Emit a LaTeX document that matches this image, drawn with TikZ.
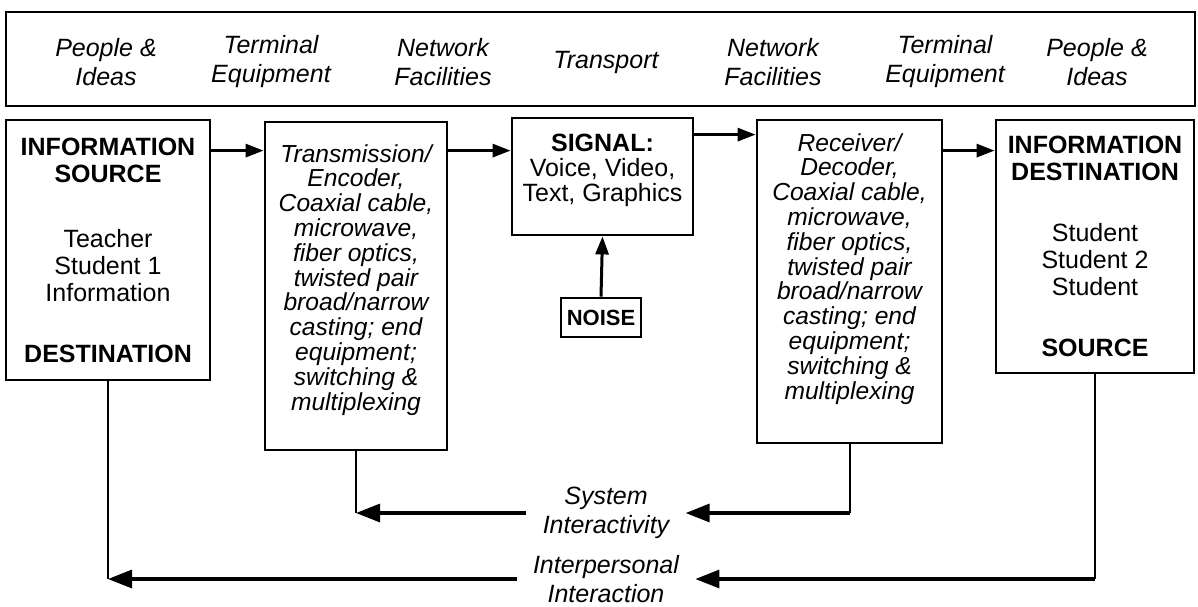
\documentclass[tikz,border=0pt]{standalone}
\usepackage{fontspec}
\setmainfont{Liberation Sans}
\usetikzlibrary{arrows.meta}

\begin{document}
\begin{tikzpicture}[x=0.5pt,y=-0.5pt,
  box/.style={draw,line width=1.4pt,inner sep=0pt,align=center,font=\fontsize{12.5}{13.5}\selectfont},
  mbox/.style={box,font=\fontsize{12.3}{12.4}\selectfont\itshape},
  hdr/.style={align=center,font=\fontsize{12.5}{14.5}\selectfont\itshape},
  lbl/.style={align=center,inner xsep=8pt,font=\fontsize{12.5}{14.5}\selectfont\itshape},
  arr/.style={line width=1.5pt,-{Triangle[length=9pt,width=6.5pt]}},
  barr/.style={line width=1.6pt,-{Triangle[length=12pt,width=9pt]}},
  wire/.style={line width=1pt}]
\useasboundingbox (0,0) rectangle (1198,606);
% header strip
\node[box,minimum width=594.5pt,minimum height=47pt] (top) at (600.5,59) {};
\foreach \x/\t [count=\i] in {106/{People \&\\Ideas},271/{Terminal\\Equipment},443/{Network\\Facilities},606/Transport,773/{Network\\Facilities},945/{Terminal\\Equipment},1097/{People \&\\Ideas}}
  \node[hdr] (h\i) at (\x,62) {\t};
% boxes
\node[box,minimum width=102pt,minimum height=130pt] (src) at (108,250)
  {\textbf{INFORMATION}\\\textbf{SOURCE}\\[19pt]Teacher\\Student 1\\Information\\[17pt]\textbf{DESTINATION}};
\node[mbox,minimum width=91pt,minimum height=164pt] (enc) at (356,286)
  {Transmission/\\Encoder,\\Coaxial cable,\\microwave,\\fiber optics,\\twisted pair\\broad/narrow\\casting; end\\equipment;\\switching \&\\multiplexing\\[-3.5pt]};
\node[box,minimum width=90.5pt,minimum height=58.5pt,font=\fontsize{12.5}{12.5}\selectfont] (sig) at (602.5,176.5)
  {\textbf{SIGNAL:}\\Voice, Video,\\Text, Graphics\\[-4pt]};
\node[box,minimum width=40pt,minimum height=19.5pt,font=\fontsize{11}{12}\selectfont\bfseries] (noise) at (601,317.5) {NOISE};
\node[mbox,minimum width=92.5pt,minimum height=161.5pt] (dec) at (849.5,281.5)
  {Receiver/\\Decoder,\\Coaxial cable,\\microwave,\\fiber optics,\\twisted pair\\broad/narrow\\casting; end\\equipment;\\switching \&\\multiplexing\\[3pt]};
\node[box,minimum width=99pt,minimum height=126.5pt] (dst) at (1095,246.5)
  {\textbf{INFORMATION}\\\textbf{DESTINATION}\\[17pt]Student\\Student 2\\Student\\[17pt]\textbf{SOURCE}};
% feedback labels
\node[lbl] (sys) at (606,513) {System\\Interactivity};
\node[lbl] (ipi) at (606,579) {Interpersonal\\Interaction};
% forward chain
\draw[arr] ([yshift=-16pt]src.north east) -- ([yshift=-15pt]enc.north west);
\draw[arr] ([yshift=-15pt]enc.north east) -- ([yshift=-17pt]sig.north west);
\draw[arr] ([yshift=-9pt]sig.north east) -- ([yshift=-8pt]dec.north west);
\draw[arr] ([yshift=-16pt]dec.north east) -- ([yshift=-16pt]dst.north west);
\draw[arr] (noise.north) -- (sig.south);
% return paths
\coordinate (c1) at (enc.south |- sys.west);
\coordinate (c2) at (dec.south |- sys.east);
\coordinate (c3) at (src.south |- ipi.west);
\coordinate (c4) at (dst.south |- ipi.east);
\draw[wire] (enc.south) -- (c1);
\draw[barr] (sys.west) -- (c1);
\draw[wire] (dec.south) -- (c2);
\draw[barr] (c2) -- (sys.east);
\draw[wire] (src.south) -- (c3);
\draw[barr] (ipi.west) -- (c3);
\draw[wire] (dst.south) -- (c4);
\draw[barr] (c4) -- (ipi.east);
\end{tikzpicture}
\end{document}
